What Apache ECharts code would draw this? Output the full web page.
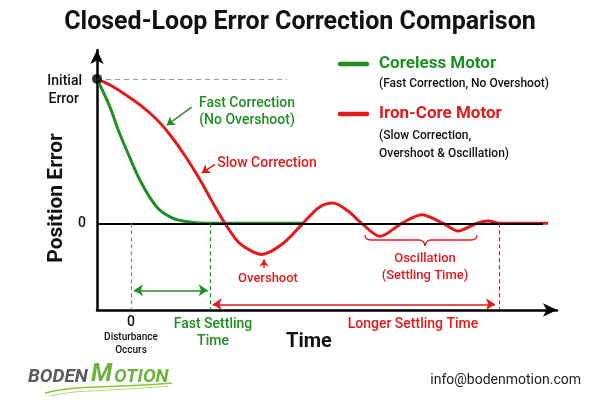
<!DOCTYPE html>
<html>
<head>
<meta charset="utf-8">
<script src="https://cdn.jsdelivr.net/npm/echarts@6/dist/echarts.min.js"></script>
<style>
  html, body { margin: 0; padding: 0; background: #fff; }
  #chart { width: 600px; height: 400px; }
</style>
</head>
<body>
<div id="chart"></div>
<script>
// time axis: 0 = disturbance occurs
var greenTime = [-3.4, -2.1, -1.3, -0.43, 0.9, 2.57, 4.2, 5.9, 7.5, 17.2];
var greenError = [1.0, 0.805, 0.65, 0.506, 0.298, 0.113, 0.035, 0.009, 0, 0];

var redTime = [-3.4, -2.1, -0.8, 0.9, 2.6, 3.9, 5.4, 6.9, 8.1, 9.4, 10.9, 13.1, 15.2, 17.2, 18.8, 20.2, 21.7, 23.07, 24.9, 27.07, 29.07, 31.2, 32.7, 34.57, 35.7, 36.9, 41.7];
var redError = [1.0, 0.958, 0.903, 0.82, 0.717, 0.613, 0.468, 0.302, 0.152, 0, -0.14, -0.215, -0.14, 0, 0.11, 0.14, 0.085, 0, -0.09, 0, 0.06, 0, -0.053, 0, 0.016, 0, 0];

var disturbanceTime = 0;
var fastSettleTime = 7.97;
var slowSettleTime = 36.8;
var overshootTime = 13.3;

var GREEN = '#1f8f23';
var RED = '#e3191c';
var FONT = 'Roboto, "Liberation Sans", sans-serif';

function pairs(xs, ys) {
    var out = [];
    for (var i = 0; i < xs.length; i++) out.push([xs[i], ys[i]]);
    return out;
}

function txt(x, y, text, color, font, align) {
    return {
        type: 'text', x: x, y: y,
        style: { text: text, fill: color, font: font, align: align || 'center', verticalAlign: 'middle' }
    };
}

var chart = echarts.init(document.getElementById('chart'));

var option = {
    backgroundColor: '#fff',
    animation: false,
    grid: { left: 97, right: 43, top: 50, bottom: 90 },
    xAxis: {
        type: 'value',
        min: -3.4,
        max: 42.6,
        axisLine: {
            onZero: false,
            symbol: ['none', 'arrow'],
            symbolSize: [10, 14],
            lineStyle: { color: '#000', width: 2.5 }
        },
        axisTick: { show: false },
        axisLabel: { show: false },
        splitLine: { show: false }
    },
    yAxis: {
        type: 'value',
        min: -0.6,
        max: 1.2,
        axisLine: {
            show: true,
            onZero: false,
            symbol: ['none', 'arrow'],
            symbolSize: [10, 14],
            lineStyle: { color: '#000', width: 2.5 }
        },
        axisTick: { show: false },
        axisLabel: { show: false },
        splitLine: { show: false }
    },
    series: [{
        // reference lines & arrows
        type: 'line',
        data: [],
        silent: true,
        markLine: {
            silent: true,
            symbol: ['none', 'none'],
            label: { show: false },
            animation: false,
            data: [
                [{ coord: [-3.4, 0], lineStyle: { color: '#000', width: 2, type: 'solid' } }, { coord: [41.2, 0] }],
                [{ coord: [-3.4, 1], lineStyle: { color: '#999', width: 1.2, type: [5, 4] } }, { coord: [15.6, 1] }],
                [{ coord: [disturbanceTime, 0], lineStyle: { color: '#888', width: 1.2, type: [4, 3] } }, { coord: [disturbanceTime, -0.6] }],
                [{ coord: [fastSettleTime, 0], lineStyle: { color: GREEN, width: 1.2, type: [4, 3] } }, { coord: [fastSettleTime, -0.6] }],
                [{ coord: [slowSettleTime, 0], lineStyle: { color: RED, width: 1.2, type: [4, 3] } }, { coord: [slowSettleTime, -0.6] }],
                [{ coord: [disturbanceTime + 0.3, -0.464], symbol: 'arrow', symbolSize: 9, lineStyle: { color: GREEN, width: 1.5, type: 'solid' } },
                 { coord: [fastSettleTime - 0.3, -0.464], symbol: 'arrow', symbolSize: 9 }],
                [{ coord: [fastSettleTime + 0.2, -0.561], symbol: 'arrow', symbolSize: 9, lineStyle: { color: RED, width: 1.5, type: 'solid' } },
                 { coord: [slowSettleTime - 0.4, -0.561], symbol: 'arrow', symbolSize: 9 }],
                [{ coord: [6.07, 0.805], lineStyle: { color: GREEN, width: 1.5, type: 'solid' } },
                 { coord: [3.57, 0.679], symbol: 'arrow', symbolSize: 8 }],
                [{ coord: [8.4, 0.409], lineStyle: { color: RED, width: 1.5, type: 'solid' } },
                 { coord: [7.07, 0.348], symbol: 'arrow', symbolSize: 8 }],
                [{ coord: [overshootTime, -0.31], lineStyle: { color: RED, width: 1.5, type: 'solid' } },
                 { coord: [overshootTime, -0.25], symbol: 'arrow', symbolSize: 7 }]
            ]
        }
    }, {
        name: 'Coreless Motor',
        type: 'line',
        data: pairs(greenTime, greenError),
        smooth: 0.3,
        showSymbol: false,
        lineStyle: { color: GREEN, width: 3 },
        z: 3
    }, {
        name: 'Iron-Core Motor',
        type: 'line',
        data: pairs(redTime, redError),
        smooth: 0.3,
        showSymbol: false,
        lineStyle: { color: RED, width: 3 },
        z: 4
    }, {
        type: 'scatter',
        data: [[-3.4, 1]],
        symbolSize: 10,
        itemStyle: { color: '#000' },
        z: 5
    }],
    graphic: [
        txt(300, 23, 'Closed-Loop Error Correction Comparison', '#111', 'bold 25px ' + FONT),

        txt(82, 81, 'Initial', '#111', '500 14px ' + FONT, 'right'),
        txt(79, 99, 'Error', '#111', '500 14px ' + FONT, 'right'),
        txt(86, 223, '0', '#111', '500 14px ' + FONT, 'right'),
        { type: 'text', x: 57, y: 198, rotation: Math.PI / 2, style: { text: 'Position Error', fill: '#111', font: 'bold 21px ' + FONT, align: 'center', verticalAlign: 'middle' } },

        txt(247, 103, 'Fast Correction', GREEN, '500 14px ' + FONT),
        txt(247, 120, '(No Overshoot)', GREEN, '500 14px ' + FONT),
        txt(267, 163, 'Slow Correction', RED, '500 14px ' + FONT),
        txt(268, 279, 'Overshoot', RED, '500 13px ' + FONT),
        txt(425, 259, 'Oscillation', RED, '500 13px ' + FONT),
        txt(425, 276, '(Settling Time)', RED, '500 13px ' + FONT),

        // brace under oscillation
        { type: 'bezierCurve', shape: { x1: 365, y1: 235, cpx1: 365, cpy1: 240, x2: 371, y2: 240 }, style: { stroke: RED, lineWidth: 1.3, fill: null } },
        { type: 'line', shape: { x1: 371, y1: 240, x2: 419, y2: 240 }, style: { stroke: RED, lineWidth: 1.3 } },
        { type: 'bezierCurve', shape: { x1: 419, y1: 240, cpx1: 424, cpy1: 240, x2: 425, y2: 246 }, style: { stroke: RED, lineWidth: 1.3, fill: null } },
        { type: 'bezierCurve', shape: { x1: 425, y1: 246, cpx1: 426, cpy1: 240, x2: 431, y2: 240 }, style: { stroke: RED, lineWidth: 1.3, fill: null } },
        { type: 'line', shape: { x1: 431, y1: 240, x2: 471, y2: 240 }, style: { stroke: RED, lineWidth: 1.3 } },
        { type: 'bezierCurve', shape: { x1: 471, y1: 240, cpx1: 477, cpy1: 240, x2: 477, y2: 235 }, style: { stroke: RED, lineWidth: 1.3, fill: null } },

        txt(131, 322, '0', '#111', '500 14px ' + FONT),
        txt(131, 337, 'Disturbance', '#111', '500 10px ' + FONT),
        txt(131, 350, 'Occurs', '#111', '500 10px ' + FONT),
        txt(213, 324, 'Fast Settling', GREEN, '500 14px ' + FONT),
        txt(213, 341, 'Time', GREEN, '500 14px ' + FONT),
        txt(309, 342, 'Time', '#111', 'bold 20px ' + FONT),
        txt(413, 324, 'Longer Settling Time', RED, '500 14px ' + FONT),

        // legend
        { type: 'line', shape: { x1: 340, y1: 64, x2: 367, y2: 64 }, style: { stroke: GREEN, lineWidth: 4.5, lineCap: 'round' } },
        txt(379, 64, 'Coreless Motor', GREEN, 'bold 17px ' + FONT, 'left'),
        txt(379, 84, '(Fast Correction, No Overshoot)', '#111', '500 12px ' + FONT, 'left'),
        { type: 'line', shape: { x1: 340, y1: 114, x2: 367, y2: 114 }, style: { stroke: RED, lineWidth: 4.5, lineCap: 'round' } },
        txt(379, 114, 'Iron-Core Motor', RED, 'bold 17px ' + FONT, 'left'),
        txt(379, 136, '(Slow Correction,', '#111', '500 12px ' + FONT, 'left'),
        txt(379, 154, 'Overshoot & Oscillation)', '#111', '500 12px ' + FONT, 'left'),

        // footer logo
        { type: 'bezierCurve', shape: { x1: 45, y1: 393, cpx1: 75, cpy1: 385, cpx2: 100, cpy2: 389, x2: 172, y2: 383 }, style: { stroke: '#8cc63f', lineWidth: 1.5, fill: null } },
        { type: 'bezierCurve', shape: { x1: 50, y1: 396, cpx1: 78, cpy1: 389, cpx2: 105, cpy2: 392, x2: 168, y2: 386 }, style: { stroke: '#b5dc7a', lineWidth: 1.2, fill: null } },
        txt(28, 377, 'BODEN', '#5b5b5b', 'italic bold 19px ' + FONT, 'left'),
        txt(91, 375, 'M', '#6db33f', 'italic bold 25px ' + FONT, 'left'),
        txt(114, 377, 'OTION', '#6db33f', 'italic bold 19px ' + FONT, 'left'),
        txt(581, 380, 'info@bodenmotion.com', '#222', '14px ' + FONT, 'right')
    ]
};

chart.setOption(option);
</script>
</body>
</html>
